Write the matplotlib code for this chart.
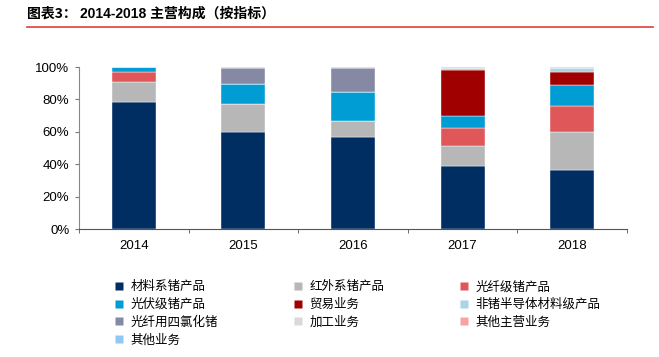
import numpy as np
import matplotlib.pyplot as plt
from matplotlib.lines import Line2D

plt.rcParams['font.family'] = ['Liberation Sans', 'Noto Sans CJK SC', 'DejaVu Sans']

# dados (%)
anos = ['2014', '2015', '2016', '2017', '2018']
series = ['材料系锗产品', '红外系锗产品', '光纤级锗产品', '光伏级锗产品', '贸易业务',
          '非锗半导体材料级产品', '光纤用四氯化锗', '加工业务', '其他主营业务', '其他业务']
material = [78.5, 60.1, 57.0, 38.9, 36.4]
infravermelho = [12.4, 16.9, 9.9, 12.5, 23.7]
fibra = [6.2, 0.0, 0.0, 11.2, 15.8]
fotovoltaico = [2.9, 12.3, 17.5, 7.2, 13.0]
comercio = [0.0, 0.0, 0.0, 28.5, 8.2]
semicondutor = [0.0, 0.0, 0.0, 0.8, 2.5]
tetracloreto = [0.0, 9.9, 14.8, 0.0, 0.0]
processamento = [0.0, 0.3, 0.2, 0.0, 0.0]
outros_principais = [0.0, 0.5, 0.6, 0.9, 0.4]
outros = [0.0, 0.0, 0.0, 0.0, 0.0]

valores = [material, infravermelho, fibra, fotovoltaico, comercio,
           semicondutor, tetracloreto, processamento, outros_principais, outros]
cores = ['#002D62', '#B7B7B7', '#E0575A', '#009CD4', '#A00000',
         '#A9D4E4', '#8589A3', '#D9D9D9', '#F8A3A3', '#8FC8F0']

fig = plt.figure(figsize=(6.59, 3.57), dpi=100)
ax = fig.add_axes([79 / 659, 1 - 229 / 357, 548 / 659, 162 / 357])

x = np.arange(len(anos))
base = np.zeros(len(anos))
for v, c in zip(valores, cores):
    v = np.array(v) / 100
    ax.bar(x, v, 0.4, bottom=base, color=c, edgecolor='white', linewidth=0.3)
    base += v

ax.set_xlim(-0.5, len(anos) - 0.5)
ax.set_ylim(0, 1)
ax.set_yticks(np.arange(0, 1.01, 0.2))
ax.set_yticklabels([f'{int(round(t * 100))}%' for t in np.arange(0, 1.01, 0.2)], fontsize=9.5)
ax.set_xticks(x)
ax.set_xticklabels(anos, fontsize=9.5)
ax.set_xticks(np.arange(-0.5, len(anos)), minor=True)
ax.tick_params(axis='x', which='major', length=0, pad=8)
ax.tick_params(axis='x', which='minor', length=3, color='#555555')
ax.tick_params(axis='y', length=3, color='#777777', pad=4)
for s in ['top', 'right']:
    ax.spines[s].set_visible(False)
ax.spines['left'].set_color('#888888')
ax.spines['bottom'].set_color('#555555')

# legenda (preenchida por linhas)
handles = [Line2D([], [], marker='s', linestyle='none', markersize=6,
                  markerfacecolor=c, markeredgecolor='none') for c in cores]
ordem = [0, 3, 6, 9, 1, 4, 7, 2, 5, 8]
fig.legend([handles[i] for i in ordem], [series[i] for i in ordem],
           ncol=3, loc='upper left', bbox_to_anchor=(108 / 659, 1 - 274 / 357),
           frameon=False, prop={'family': ['Noto Sans CJK SC'], 'size': 9},
           handlelength=0.8, handletextpad=0.5, columnspacing=6.0,
           labelspacing=0.38, borderpad=0)

# título
fig.text(27 / 659, 1 - 18 / 357, '图表3：', fontsize=10, fontweight='bold',
         family=['Noto Sans CJK SC'], va='baseline')
fig.text(80 / 659, 1 - 18 / 357, '2014-2018 主营构成（按指标）', fontsize=10,
         fontweight='bold', family=['Liberation Sans', 'Noto Sans CJK SC'], va='baseline')
fig.add_artist(Line2D([27 / 659, 653 / 659], [1 - 27 / 357, 1 - 27 / 357],
                      color='#E0403A', linewidth=1.2))

plt.savefig('out.png', dpi=100)
